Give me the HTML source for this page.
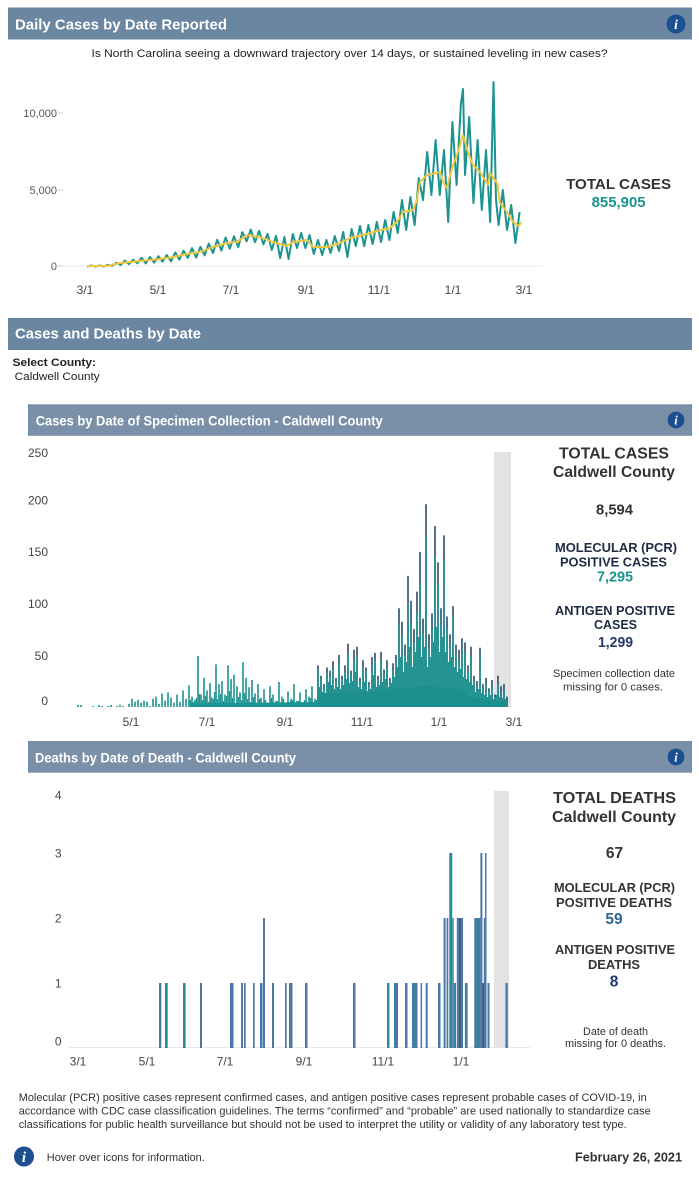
<!DOCTYPE html>
<html><head><meta charset="utf-8"><style>
html,body{margin:0;padding:0;background:#fff;}
svg{display:block;font-family:"Liberation Sans",Arial,sans-serif;}
</style></head><body>
<svg width="699" height="1179" viewBox="0 0 699 1179" xmlns="http://www.w3.org/2000/svg">
<rect width="699" height="1179" fill="#fff"/>
<!-- Top header -->
<rect x="8" y="7.5" width="684" height="32" fill="#6b86a0"/>
<text x="15" y="29.3" font-size="15" font-weight="bold" fill="#fff" textLength="212" lengthAdjust="spacingAndGlyphs">Daily Cases by Date Reported</text>
<circle cx="676" cy="24" r="9.5" fill="#1c4f8f"/>
<text x="676" y="29" font-size="14" font-weight="bold" font-style="italic" fill="#fff" text-anchor="middle" font-family="Liberation Serif,serif">i</text>
<text x="91.5" y="57" font-size="11" fill="#222" textLength="516" lengthAdjust="spacingAndGlyphs">Is North Carolina seeing a downward trajectory over 14 days, or sustained leveling in new cases?</text>

<!-- Top chart -->
<line x1="62" y1="266" x2="543" y2="266" stroke="#e8e8e8" stroke-width="1"/>
<g stroke="#cfcfcf" stroke-width="1"><line x1="58" y1="113" x2="63" y2="113"/><line x1="58" y1="190" x2="63" y2="190"/><line x1="58" y1="266" x2="63" y2="266"/></g>
<g font-size="11" fill="#555" text-anchor="end"><text x="57" y="117">10,000</text><text x="57" y="194">5,000</text><text x="57" y="270">0</text></g>
<g font-size="12" fill="#444" text-anchor="middle"><text x="85" y="294">3/1</text><text x="158" y="294">5/1</text><text x="231" y="294">7/1</text><text x="306" y="294">9/1</text><text x="379" y="294">11/1</text><text x="453" y="294">1/1</text><text x="524" y="294">3/1</text></g>
<polyline fill="none" stroke="#1b9390" stroke-width="2" stroke-linejoin="round" points="87,266.5 91.2,265.5 95.4,266.5 99.6,265.5 103.8,266.5 108,264.8 112.2,265.8 116.4,262.8 120.6,265 124.8,260.5 129,264.1 133.2,259.7 137.4,263.3 141.6,257.8 145.8,263.4 150,257 154.2,262.6 158.4,256.2 162.6,261.6 166.8,255 171,261.3 175.2,252.5 179.4,259.6 183.6,250.7 187.8,257.9 192,248.2 196.2,257.6 200.4,246.8 204.6,255.3 208.8,243.6 213,253 217.2,239.8 221.4,250.6 225.6,237.4 229.8,248.7 234,236.3 238.2,247.2 242.4,232.2 246.6,241.3 250.8,229.6 255,242.2 259.2,230.9 263.4,244.3 267.6,233.9 271.8,250 276,236 280.2,258 284.4,237 288.6,259 292.8,234 297,248 301.2,233 305.4,248 309.6,235 313.8,254 318,240 322.2,255 326.4,240 330.6,253 334.8,236 339,251 343.2,232 347.4,257 351.6,229 355.8,246 360,226 364.2,246 368.4,225 372.6,244 376.8,222 381,242 385.2,220 389.4,240 393.6,212 397.8,233 402,200 406.2,230 410.4,197 414.6,225 418.8,178 423,200 427.2,152 431.4,195 435.6,140 439.8,195 444,150 448.2,222 452.4,122 456.6,185 460.8,105 463,89 465,175 469.2,117 473.4,203 477.6,140 481.8,210 486,150 490.2,222 493.5,82 496,200 498.6,225 502.8,190 507,230 511.2,205 515.4,243 519.6,212"/>
<polyline fill="none" stroke="#f2c53d" stroke-width="2" stroke-linejoin="round" points="87,266 107,266 120,263 140,261 160,259 173,257 187,254 200,252 213,247 227,243 237,242 247,235 260,237 273,242 287,246 293,242 307,240 313,247 327,247 340,243 350,238 367,234 377,231 390,228 397,222 403,212 413,210 417,200 420,182 427,175 440,172 443,182 447,188 452,168 457,155 463,135 468,152 473,165 480,172 488,185 490,173 497,183 500,203 507,212 513,222 519,226 521,222"/>
<text x="618.6" y="189" font-size="15" font-weight="bold" fill="#333" text-anchor="middle" textLength="105" lengthAdjust="spacingAndGlyphs">TOTAL CASES</text>
<text x="618.6" y="207" font-size="15" font-weight="bold" fill="#1b9390" text-anchor="middle" textLength="54" lengthAdjust="spacingAndGlyphs">855,905</text>

<!-- Section 2 header -->
<rect x="8" y="318" width="684" height="32" fill="#6b86a0"/>
<text x="15" y="338.5" font-size="14.5" font-weight="bold" fill="#fff" textLength="186" lengthAdjust="spacingAndGlyphs">Cases and Deaths by Date</text>
<text x="12.5" y="366" font-size="11.2" font-weight="bold" fill="#222" textLength="83.5" lengthAdjust="spacingAndGlyphs">Select County:</text>
<text x="14.7" y="380" font-size="11.2" fill="#222" textLength="85" lengthAdjust="spacingAndGlyphs">Caldwell County</text>

<!-- Cases sub header -->
<rect x="28" y="404.3" width="664" height="31.5" fill="#7a90a9"/>
<text x="35.7" y="425.5" font-size="13.5" font-weight="bold" fill="#fff" textLength="347" lengthAdjust="spacingAndGlyphs">Cases by Date of Specimen Collection - Caldwell County</text>
<circle cx="676" cy="420" r="8.4" fill="#1c4f8f"/>
<text x="676" y="424.5" font-size="12.5" font-weight="bold" font-style="italic" fill="#fff" text-anchor="middle" font-family="Liberation Serif,serif">i</text>

<!-- Cases chart -->
<rect x="494" y="452" width="17" height="255" fill="#e3e3e3"/>
<g font-size="12" fill="#444" text-anchor="end"><text x="48" y="457">250</text><text x="48" y="504.3">200</text><text x="48" y="556">150</text><text x="48" y="608">100</text><text x="48" y="660">50</text><text x="48" y="705">0</text></g>
<g font-size="12" fill="#444" text-anchor="middle"><text x="131" y="726">5/1</text><text x="207" y="726">7/1</text><text x="285" y="726">9/1</text><text x="362" y="726">11/1</text><text x="439" y="726">1/1</text><text x="514" y="726">3/1</text></g>
<polygon fill="#1b9390" points="190,707 190,703.5 318,702 318,695 340,693 370,692 400,688 430,686 460,690 470,697 490,700 508,702 508,707"/>
<path fill="none" stroke="#2f4a6b" stroke-width="1.6" d="M318 707V665.4M321 707V675.8M324 707V684.1M327 707V667.5M330 707V670.6M333 707V661.2M336 707V677.9M339 707V655M342 707V675.8M345 707V665.4M348 707V643.6M351 707V670.6M354 707V649.8M357 707V646.7M360 707V677.9M363 707V660.2M366 707V667.5M369 707V682M372 707V657.1M375 707V652.9M378 707V675.8M381 707V651.9M384 707V669.6M387 707V660.2M390 707V677.9M393 707V663.3M396 707V655M399 707V608.2M402 707V621.7M405 707V644.6M408 707V575.9M411 707V600.9M414 707V629M417 707V591.6M420 707V552M423 707V618.6M426 707V504.2M429 707V634.2M432 707V613.4M435 707V526M438 707V562.4M441 707V608.2M444 707V535.4M447 707V616.5M450 707V634.2M453 707V606.1M456 707V644.6M459 707V649.8M462 707V638.4M465 707V642.5M468 707V665.4M471 707V646.7M474 707V675.8M477 707V681M480 707V647.7M483 707V684.1M486 707V677.9M489 707V688.3M492 707V680M495 707V694.5M498 707V675.8M501 707V686.2M504 707V684.1M507 707V696.6"/>
<path fill="none" stroke="#1b9390" stroke-width="1.6" d="M78 707V704.9M81 707V704.9M93 707V706M99 707V704.9M102 707V706M108 707V706M111 707V704.9M117 707V706M120 707V704.9M123 707V706M129 707V703.9M132 707V698.7M135 707V701.8M138 707V699.7M141 707V702.8M144 707V700.8M147 707V701.8M150 707V706M153 707V698.7M156 707V696.6M159 707V703.9M162 707V693.5M165 707V700.8M168 707V692.4M171 707V697.6M174 707V702.8M177 707V694.5M180 707V701.8M183 707V690.4M186 707V698.7M189 707V685.2M192 707V696.6M195 707V699.7M198 707V656M201 707V694.5M204 707V677.9M207 707V690.4M210 707V683.1M213 707V698.7M216 707V664.4M219 707V684.1M222 707V681M225 707V694.5M228 707V665.4M231 707V678.9M234 707V674.8M237 707V686.2M240 707V692.4M243 707V662.3M246 707V677.9M249 707V687.2M252 707V680M255 707V693.5M258 707V684.1M261 707V697.6M264 707V689.3M267 707V702.8M270 707V686.2M273 707V694.5M276 707V700.8M279 707V682M282 707V696.6M285 707V703.9M288 707V691.4M291 707V698.7M294 707V684.1M297 707V700.8M300 707V692.4M303 707V702.8M306 707V689.3M309 707V696.6M312 707V686.2M315 707V698.7M318 707V669.6M321 707V678.9M324 707V686.2M327 707V672.7M330 707V675.8M333 707V667.5M336 707V681M339 707V663.3M342 707V680M345 707V671.6M348 707V652.9M351 707V675.8M354 707V659.2M357 707V655M360 707V682M363 707V667.5M366 707V672.7M369 707V685.2M372 707V665.4M375 707V660.2M378 707V680M381 707V660.2M384 707V674.8M387 707V667.5M390 707V682M393 707V669.6M396 707V662.3M399 707V623.8M402 707V634.2M405 707V655M408 707V603M411 707V623.8M414 707V642.5M417 707V613.4M420 707V582.2M423 707V634.2M426 707V535.4M429 707V649.8M432 707V629M435 707V556.2M438 707V584.3M441 707V623.8M444 707V559.3M447 707V629M450 707V644.6M453 707V615.5M456 707V655M459 707V660.2M462 707V648.8M465 707V652.9M468 707V671.6M471 707V657.1M474 707V681M477 707V685.2M480 707V657.1M483 707V688.3M486 707V684.1M489 707V692.4M492 707V686.2M495 707V697.6M498 707V684.1M501 707V692.4M504 707V690.4M507 707V700.8"/>
<path fill="none" stroke="#1b9390" stroke-width="1.3" d="M190.5 707V700M193.5 707V702M196.5 707V698M199.5 707V694M202.5 707V700M205.5 707V696M208.5 707V702M211.5 707V697M214.5 707V692M217.5 707V699M220.5 707V694M223.5 707V701M226.5 707V696M229.5 707V691M232.5 707V698M235.5 707V703M238.5 707V697M241.5 707V700M244.5 707V693M247.5 707V699M250.5 707V702M253.5 707V697M256.5 707V703M259.5 707V699M262.5 707V704M265.5 707V700M268.5 707V703M271.5 707V698M274.5 707V704M277.5 707V701M280.5 707V703M283.5 707V699M286.5 707V705M289.5 707V702M292.5 707V700M295.5 707V704M298.5 707V701M301.5 707V705M304.5 707V700M307.5 707V703M310.5 707V698M313.5 707V702M316.5 707V700M319.5 707V687M322.5 707V692M325.5 707V693M328.5 707V682M331.5 707V685M334.5 707V689M337.5 707V687M340.5 707V689M343.5 707V685M346.5 707V679M349.5 707V683M352.5 707V681M355.5 707V672M358.5 707V687M361.5 707V689M364.5 707V682M367.5 707V691M370.5 707V689M373.5 707V675M376.5 707V687M379.5 707V685M382.5 707V682M385.5 707V679M388.5 707V687M391.5 707V683M394.5 707V677M397.5 707V667M400.5 707V657M403.5 707V672M406.5 707V662M409.5 707V647M412.5 707V667M415.5 707V652M418.5 707V637M421.5 707V657M424.5 707V647M427.5 707V667M430.5 707V657M433.5 707V642M436.5 707V627M439.5 707V652M442.5 707V637M445.5 707V652M448.5 707V662M451.5 707V657M454.5 707V667M457.5 707V672M460.5 707V669M463.5 707V677M466.5 707V679M469.5 707V682M472.5 707V685M475.5 707V692M478.5 707V689M481.5 707V693M484.5 707V695M487.5 707V697M490.5 707V695M493.5 707V699M496.5 707V695M499.5 707V697M502.5 707V698M505.5 707V699"/>

<!-- Cases right panel -->
<g text-anchor="middle" font-weight="bold">
<text x="614" y="458.3" font-size="16" fill="#333" textLength="110" lengthAdjust="spacingAndGlyphs">TOTAL CASES</text>
<text x="614" y="477" font-size="16" fill="#333" textLength="122" lengthAdjust="spacingAndGlyphs">Caldwell County</text>
<text x="614.5" y="514.5" font-size="15" fill="#333" textLength="37" lengthAdjust="spacingAndGlyphs">8,594</text>
<text x="616" y="552" font-size="12.5" fill="#1f2a44" textLength="122" lengthAdjust="spacingAndGlyphs">MOLECULAR (PCR)</text>
<text x="613.5" y="566.3" font-size="12.5" fill="#1f2a44" textLength="107" lengthAdjust="spacingAndGlyphs">POSITIVE CASES</text>
<text x="615" y="581.5" font-size="15" fill="#1b9390" textLength="36" lengthAdjust="spacingAndGlyphs">7,295</text>
<text x="615" y="615" font-size="12.5" fill="#1f2a44" textLength="120" lengthAdjust="spacingAndGlyphs">ANTIGEN POSITIVE</text>
<text x="615.5" y="629" font-size="12.5" fill="#1f2a44" textLength="43" lengthAdjust="spacingAndGlyphs">CASES</text>
<text x="615.5" y="647" font-size="15" fill="#263a66" textLength="35" lengthAdjust="spacingAndGlyphs">1,299</text>
</g>
<g text-anchor="middle" font-size="11" fill="#333">
<text x="614" y="677" textLength="122" lengthAdjust="spacingAndGlyphs">Specimen collection date</text>
<text x="613" y="690.5" textLength="100" lengthAdjust="spacingAndGlyphs">missing for 0 cases.</text>
</g>

<!-- Deaths sub header -->
<rect x="28" y="741" width="664" height="31.7" fill="#7a90a9"/>
<text x="35" y="762.5" font-size="13.5" font-weight="bold" fill="#fff" textLength="261" lengthAdjust="spacingAndGlyphs">Deaths by Date of Death - Caldwell County</text>
<circle cx="676" cy="757" r="8.4" fill="#1c4f8f"/>
<text x="676" y="761.5" font-size="12.5" font-weight="bold" font-style="italic" fill="#fff" text-anchor="middle" font-family="Liberation Serif,serif">i</text>

<!-- Deaths chart -->
<rect x="494" y="791" width="15" height="256.5" fill="#e3e3e3"/>
<line x1="69" y1="1047.5" x2="530" y2="1047.5" stroke="#e8e8e8" stroke-width="1"/>
<g font-size="12" fill="#444" text-anchor="end"><text x="61.5" y="799.3">4</text><text x="61.5" y="857.3">3</text><text x="61.5" y="922.3">2</text><text x="61.5" y="987.3">1</text><text x="61.5" y="1045.3">0</text></g>
<g font-size="12" fill="#444" text-anchor="middle"><text x="78" y="1065.5">3/1</text><text x="147" y="1065.5">5/1</text><text x="225" y="1065.5">7/1</text><text x="304" y="1065.5">9/1</text><text x="383" y="1065.5">11/1</text><text x="461" y="1065.5">1/1</text></g>
<g fill="#4a78a8">
<rect x="159" y="983" width="2.3" height="65"/>
<rect x="165" y="983" width="2.7" height="65"/>
<rect x="200" y="983" width="2" height="65"/>
<rect x="230" y="983" width="3.5" height="65"/>
<rect x="241" y="983" width="2" height="65"/>
<rect x="244" y="983" width="1.7" height="65"/>
<rect x="253" y="983" width="1.7" height="65"/>
<rect x="260" y="983" width="2.5" height="65"/>
<rect x="263" y="918" width="2" height="130"/>
<rect x="272" y="983" width="2" height="65"/>
<rect x="285" y="983" width="1.7" height="65"/>
<rect x="289" y="983" width="3.5" height="65"/>
<rect x="305" y="983" width="2.5" height="65"/>
<rect x="353" y="983" width="2.5" height="65"/>
<rect x="387" y="983" width="2.5" height="65"/>
<rect x="394" y="983" width="4" height="65"/>
<rect x="405" y="983" width="2.5" height="65"/>
<rect x="412" y="983" width="5.5" height="65"/>
<rect x="420.6" y="983" width="1.5" height="65"/>
<rect x="425.7" y="983" width="2" height="65"/>
<rect x="438" y="983" width="2.5" height="65"/>
<rect x="443.6" y="918" width="2" height="130"/>
<rect x="446.6" y="918" width="1.7" height="130"/>
<rect x="452.4" y="918" width="1.3" height="130"/>
<rect x="453.7" y="983" width="2.3" height="65"/>
<rect x="456.8" y="918" width="2.7" height="130"/>
<rect x="460.8" y="918" width="2.2" height="130"/>
<rect x="464.9" y="983" width="2.7" height="65"/>
<rect x="474.3" y="918" width="2.7" height="130"/>
<rect x="477" y="918" width="3.4" height="130"/>
<rect x="480.4" y="853" width="2" height="195"/>
<rect x="483.8" y="918" width="1.2" height="130"/>
<rect x="485" y="853" width="1.5" height="195"/>
<rect x="487.5" y="983" width="2" height="65"/>
<rect x="505.4" y="983" width="2.4" height="65"/>
</g>
<g fill="#2b8a99">
<rect x="166" y="983" width="1.3" height="65"/>
<rect x="183" y="983" width="2.6" height="65"/>
<rect x="261" y="983" width="1.2" height="65"/>
<rect x="388" y="983" width="1.2" height="65"/>
<rect x="414.5" y="983" width="1" height="65"/>
<rect x="449.3" y="853" width="3" height="195"/>
<rect x="454.5" y="983" width="1.2" height="65"/>
<rect x="478.3" y="918" width="1" height="130"/>
</g>
<g fill="#2c466b">
<rect x="459.5" y="918" width="1.3" height="130"/>
<rect x="482.4" y="983" width="1.4" height="65"/>
</g>

<!-- Deaths right panel -->
<g text-anchor="middle" font-weight="bold" fill="#333">
<text x="614.5" y="803" font-size="16" textLength="123" lengthAdjust="spacingAndGlyphs">TOTAL DEATHS</text>
<text x="614" y="822" font-size="16" textLength="124" lengthAdjust="spacingAndGlyphs">Caldwell County</text>
<text x="614.5" y="858" font-size="15.5">67</text>
<text x="614.5" y="892" font-size="12.5" textLength="121" lengthAdjust="spacingAndGlyphs">MOLECULAR (PCR)</text>
<text x="614" y="907" font-size="12.5" textLength="116" lengthAdjust="spacingAndGlyphs">POSITIVE DEATHS</text>
<text x="614" y="924" font-size="15.5" fill="#2e6690">59</text>
<text x="615" y="954" font-size="12.5" textLength="120" lengthAdjust="spacingAndGlyphs">ANTIGEN POSITIVE</text>
<text x="614" y="969" font-size="12.5" textLength="52" lengthAdjust="spacingAndGlyphs">DEATHS</text>
<text x="614" y="986.5" font-size="15.5" fill="#1e3a78">8</text>
</g>
<g text-anchor="middle" font-size="11" fill="#333">
<text x="615.5" y="1035" textLength="65" lengthAdjust="spacingAndGlyphs">Date of death</text>
<text x="615.5" y="1047" textLength="101" lengthAdjust="spacingAndGlyphs">missing for 0 deaths.</text>
</g>

<!-- Footer -->
<g font-size="11" fill="#333">
<text x="18.7" y="1101" textLength="628" lengthAdjust="spacingAndGlyphs">Molecular (PCR) positive cases represent confirmed cases, and antigen positive cases represent probable cases of COVID-19, in</text>
<text x="18.7" y="1114.5" textLength="632" lengthAdjust="spacingAndGlyphs">accordance with CDC case classification guidelines. The terms “confirmed” and “probable” are used nationally to standardize case</text>
<text x="18.7" y="1128" textLength="608" lengthAdjust="spacingAndGlyphs">classifications for public health surveillance but should not be used to interpret the utility or validity of any laboratory test type.</text>
<text x="46.8" y="1161" textLength="158" lengthAdjust="spacingAndGlyphs">Hover over icons for information.</text>
</g>
<circle cx="24" cy="1156.5" r="10" fill="#1c4f8f"/>
<text x="24" y="1162" font-size="15" font-weight="bold" font-style="italic" fill="#fff" text-anchor="middle" font-family="Liberation Serif,serif">i</text>
<text x="682" y="1161.5" font-size="13" font-weight="bold" fill="#333" text-anchor="end" textLength="107" lengthAdjust="spacingAndGlyphs">February 26, 2021</text>
</svg>
</body></html>
